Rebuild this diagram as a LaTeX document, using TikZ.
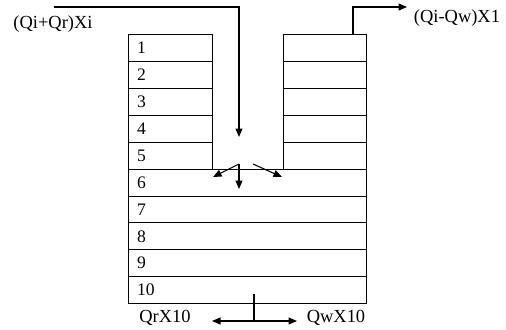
\documentclass[tikz,border=0pt]{standalone}
\usepackage{fontspec}
\setmainfont{Liberation Serif}
\usetikzlibrary{arrows.meta}
\begin{document}
\begin{tikzpicture}[x=0.02cm,y=-0.02cm,
  cell/.style={draw,line width=0.6pt,anchor=north west,inner sep=0pt,minimum height=0.534cm},
  lcell/.style={cell,minimum width=1.68cm},
  rcell/.style={cell,minimum width=1.66cm},
  bcell/.style={cell,minimum width=4.76cm},
  num/.style={anchor=west,inner sep=0pt,xshift=5pt,font=\fontsize{10}{12}\selectfont},
  lbl/.style={font=\fontsize{10.5}{12}\selectfont,inner sep=0pt},
  flow/.style={line width=0.6pt,-{Triangle[length=0.17cm,width=0.14cm]}},
  plain/.style={line width=0.6pt}]
\useasboundingbox (0,0) rectangle (506,329);
% left column
\foreach \i/\y in {1/34,2/61,3/88,4/115,5/142}{
  \node[lcell,label={[num]west:\i}] (L\i) at (128,\y) {};
}
% right column
\foreach \i/\y in {1/34,2/61,3/88,4/115,5/142}{
  \node[rcell] (R\i) at (283,\y) {};
}
% bottom block
\foreach \i/\y in {6/169,7/195.7,8/222.4,9/249.1,10/275.8}{
  \node[bcell,label={[num]west:\i}] (B\i) at (128,\y) {};
}
% labels
\node[lbl] (inl) at (53,24) {(Qi+Qr)Xi};
\node[lbl] (outl) at (457,18) {(Qi-Qw)X1};
\node[lbl] (qr) at (165,318) {QrX10};
\node[lbl] (qw) at (336,318) {QwX10};
% inlet
\coordinate (inA) at (54,7);
\coordinate (inB) at (239,137);
\draw[flow] (inA) -| (inB);
% outlet
\coordinate (outA) at (353,34);
\coordinate (outC) at (407,7);
\draw[flow] (outA) |- (outC);
% distributor arrows
\coordinate (dC) at (239,164);
\coordinate (dR) at (253,164);
\coordinate (tL) at (213,177);
\coordinate (tR) at (282,177);
\coordinate (tD) at (239,189);
\draw[flow] (dC) -- (tL);
\draw[flow] (dR) -- (tR);
\draw[flow] (dC) -- (tD);
% bottom withdrawal
\coordinate (wA) at (254,294);
\coordinate (wB) at (254,321);
\coordinate (wL) at (212,321);
\coordinate (wR) at (297,321);
\draw[plain] (wA) -- (wB);
\draw[flow] (wB) -- (wL);
\draw[flow] (wB) -- (wR);
\end{tikzpicture}
\end{document}
